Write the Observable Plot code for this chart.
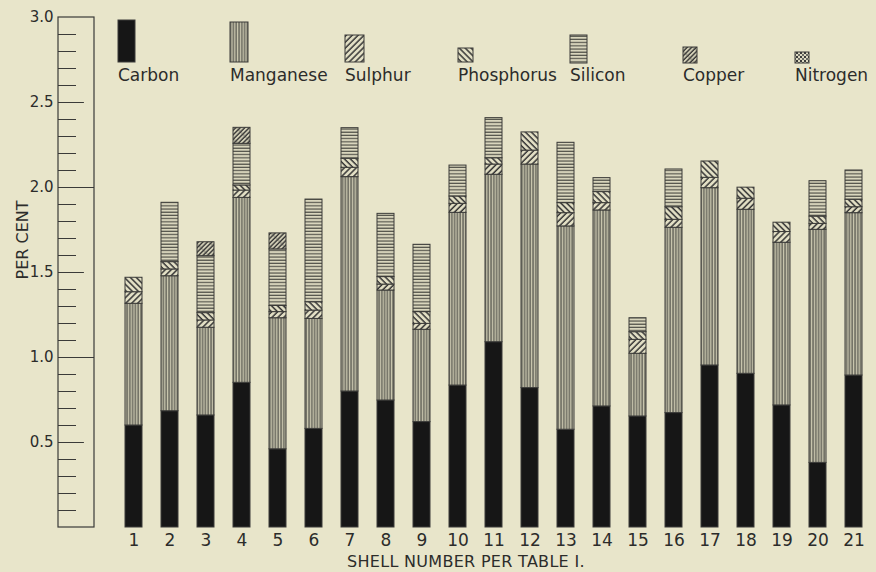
<!DOCTYPE html>
<html>
<head>
<meta charset="utf-8">
<script src="https://cdn.jsdelivr.net/npm/d3@7"></script>
<script src="https://cdn.jsdelivr.net/npm/@observablehq/plot@0.6"></script>
<style>
  html, body { margin: 0; padding: 0; background: #e8e5ca; }
  #wrap { position: relative; width: 876px; height: 572px; overflow: hidden; background: #e8e5ca; }
  #wrap > svg { position: absolute; left: 0; top: 0; }
</style>
</head>
<body>
<svg width="0" height="0" style="position:absolute">
  <defs>
    <pattern id="p-mn" width="2.8" height="10" patternUnits="userSpaceOnUse">
      <rect width="2.8" height="10" fill="#cbc8b0"/>
      <line x1="1" y1="0" x2="1" y2="10" stroke="#46463f" stroke-width="1.1"/>
    </pattern>
    <pattern id="p-s" width="4.2" height="10" patternUnits="userSpaceOnUse" patternTransform="rotate(45)">
      <rect width="4.2" height="10" fill="#e4e1c6"/>
      <line x1="1" y1="0" x2="1" y2="10" stroke="#333" stroke-width="1.5"/>
    </pattern>
    <pattern id="p-p" width="4.2" height="10" patternUnits="userSpaceOnUse" patternTransform="rotate(-45)">
      <rect width="4.2" height="10" fill="#e4e1c6"/>
      <line x1="1" y1="0" x2="1" y2="10" stroke="#333" stroke-width="1.5"/>
    </pattern>
    <pattern id="p-si" width="10" height="3.2" patternUnits="userSpaceOnUse">
      <rect width="10" height="3.2" fill="#d9d6bd"/>
      <line x1="0" y1="1" x2="10" y2="1" stroke="#46463f" stroke-width="1.1"/>
    </pattern>
    <pattern id="p-cu" width="3.2" height="10" patternUnits="userSpaceOnUse" patternTransform="rotate(45)">
      <rect width="3.2" height="10" fill="#d9d6bc"/>
      <line x1="1" y1="0" x2="1" y2="10" stroke="#2e2e2e" stroke-width="1.4"/>
      <circle cx="2.4" cy="3" r="0.5" fill="#333"/>
    </pattern>
    <pattern id="p-n" width="4" height="4" patternUnits="userSpaceOnUse">
      <rect width="4" height="4" fill="#dcd9c0"/>
      <rect width="2" height="2" fill="#3a3a3a"/>
      <rect x="2" y="2" width="2" height="2" fill="#6a6a64"/>
    </pattern>
  </defs>
</svg>
<div id="wrap"></div>
<script>
// ---- data ----
const shells = [1,2,3,4,5,6,7,8,9,10,11,12,13,14,15,16,17,18,19,20,21];
const components = ["Carbon","Manganese","Sulphur","Phosphorus","Silicon","Copper","Nitrogen"];
const carbon     = [0.60,0.684,0.659,0.851,0.46,0.58,0.80,0.747,0.62,0.835,1.09,0.82,0.575,0.712,0.653,0.673,0.953,0.904,0.718,0.38,0.894];
const manganese  = [0.716,0.794,0.516,1.088,0.771,0.647,1.261,0.647,0.543,1.016,0.985,1.315,1.196,1.153,0.369,1.09,1.043,0.965,0.957,1.371,0.955];
const sulphur    = [0.068,0.040,0.043,0.043,0.036,0.049,0.055,0.035,0.035,0.053,0.060,0.082,0.078,0.043,0.082,0.047,0.061,0.065,0.063,0.035,0.035];
const phosphorus = [0.085,0.043,0.043,0.030,0.036,0.049,0.053,0.044,0.069,0.043,0.037,0.107,0.059,0.065,0.045,0.074,0.096,0.065,0.055,0.043,0.044];
const silicon    = [0,0.349,0.335,0.245,0.333,0.604,0.180,0.372,0.396,0.182,0.236,0,0.355,0.082,0.082,0.222,0,0,0,0.208,0.172];
const copper     = [0,0,0.082,0.094,0.094,0,0,0,0,0,0,0,0,0,0,0,0,0,0,0,0];
const nitrogen   = [0,0,0,0,0,0,0,0,0,0,0,0,0,0,0,0,0,0,0,0,0];
const yTickLabels = ["0.5","1.0","1.5","2.0","2.5","3.0"];
const minorTicks = [0.1,0.2,0.3,0.4,0.6,0.7,0.8,0.9,1.1,1.2,1.3,1.4,1.6,1.7,1.8,1.9,2.1,2.2,2.3,2.4,2.6,2.7,2.8,2.9];
const halfTicks = [0.5,1.5,2.5];
const unitTicks = [1.0,2.0];
const yLabel = "PER CENT";
const xLabel = "SHELL NUMBER PER TABLE I.";

// ---- styles ----
const fills = ["#161616","url(#p-mn)","url(#p-s)","url(#p-p)","url(#p-si)","url(#p-cu)","url(#p-n)"];
const INK = "#2c2c2a";
const FONT = "'DejaVu Sans', sans-serif";

const series = [carbon, manganese, sulphur, phosphorus, silicon, copper, nitrogen];
const rows = [];
shells.forEach((s, i) => components.forEach((c, j) => {
  if (series[j][i] > 0) rows.push({shell: s, component: c, value: series[j][i]});
}));

const wrap = document.getElementById("wrap");

const main = Plot.plot({
  width: 876, height: 572,
  marginLeft: 111, marginRight: 0, marginTop: 17, marginBottom: 45,
  style: {background: "transparent", fontFamily: FONT, color: INK, overflow: "visible"},
  x: {type: "band", domain: shells, paddingInner: 0.525, paddingOuter: 0.156, label: null},
  y: {domain: [0, 3], range: [527, 17], axis: null},
  color: {domain: components, range: fills},
  marks: [
    Plot.barY(rows, Plot.stackY({x: "shell", y: "value", z: "component", fill: "component", stroke: "#3a3a38", strokeWidth: 1})),
    Plot.axisX({tickSize: 0, tickPadding: 6, fontSize: 17, label: null, fill: INK})
  ]
});
wrap.appendChild(main);

const ruler = Plot.plot({
  width: 111, height: 572, margin: 0,
  style: {background: "transparent", fontFamily: FONT, color: INK, overflow: "visible"},
  x: {domain: [0, 1], range: [58, 94], axis: null},
  y: {domain: [0, 3], range: [527, 17], axis: null},
  marks: [
    Plot.ruleY(minorTicks, {y: d => d, x1: 0, x2: 0.5, stroke: "#3a3a38", strokeWidth: 1}),
    Plot.ruleY(halfTicks, {y: d => d, x1: 0, x2: 0.72, stroke: "#3a3a38", strokeWidth: 1}),
    Plot.ruleY(unitTicks, {y: d => d, x1: 0, x2: 1, stroke: "#3a3a38", strokeWidth: 1}),
    Plot.rect([0], {x1: 0, x2: 1, y1: 0, y2: 3, stroke: "#3a3a38", strokeWidth: 1.2, fill: "none"}),
    Plot.text(yTickLabels, {x: 0, y: d => +d, text: d => d, textAnchor: "end", dx: -5, fontSize: 15, fill: INK})
  ]
});
wrap.appendChild(ruler);

// ---- annotations: legend and axis titles ----
const ann = d3.create("svg").attr("width", 876).attr("height", 572)
  .style("font-family", FONT).style("overflow", "visible");
const legendBoxes = [
  {x: 118, y: 20, w: 17, h: 42},
  {x: 230, y: 22, w: 18, h: 40},
  {x: 345, y: 35, w: 19, h: 27},
  {x: 458, y: 48, w: 15, h: 14},
  {x: 570, y: 35, w: 17, h: 28},
  {x: 683, y: 47, w: 14, h: 16},
  {x: 795, y: 52, w: 14, h: 11}
];
components.forEach((c, j) => {
  const b = legendBoxes[j];
  ann.append("rect").attr("x", b.x).attr("y", b.y).attr("width", b.w).attr("height", b.h)
    .attr("fill", fills[j]).attr("stroke", "#3a3a38").attr("stroke-width", 1);
  ann.append("text").attr("x", b.x).attr("y", 81).attr("font-size", 17).attr("fill", INK).text(c);
});
ann.append("text").attr("transform", "translate(22,240) rotate(-90)")
  .attr("text-anchor", "middle").attr("font-size", 16).attr("fill", INK).attr("dy", "0.35em").text(yLabel);
ann.append("text").attr("x", 347).attr("y", 567).attr("font-size", 16).attr("fill", INK)
  .attr("letter-spacing", 0.3).text(xLabel);
wrap.appendChild(ann.node());
</script>
</body>
</html>
